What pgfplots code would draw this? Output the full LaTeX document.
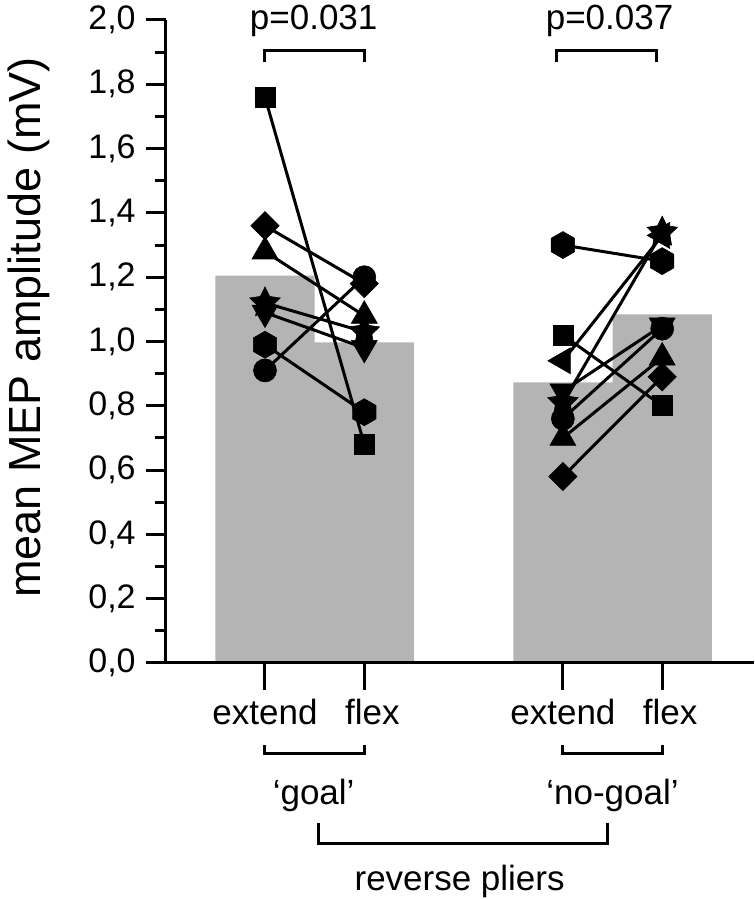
\documentclass[border=0pt]{standalone}
\usepackage{fontspec}
\setmainfont{Liberation Sans}
\usepackage{pgfplots}
\pgfplotsset{compat=1.18}
\definecolor{barg}{RGB}{180,180,180}

\pgfdeclareplotmark{hexagon*}{%
  \pgfpathmoveto{\pgfpointpolar{90}{\pgfplotmarksize}}%
  \pgfpathlineto{\pgfpointpolar{150}{\pgfplotmarksize}}%
  \pgfpathlineto{\pgfpointpolar{210}{\pgfplotmarksize}}%
  \pgfpathlineto{\pgfpointpolar{270}{\pgfplotmarksize}}%
  \pgfpathlineto{\pgfpointpolar{330}{\pgfplotmarksize}}%
  \pgfpathlineto{\pgfpointpolar{30}{\pgfplotmarksize}}%
  \pgfpathclose\pgfusepathqfillstroke}
\pgfdeclareplotmark{fstar*}{%
  \pgfpathmoveto{\pgfpointpolar{90}{\pgfplotmarksize}}%
  \pgfpathlineto{\pgfpointpolar{126}{0.5\pgfplotmarksize}}%
  \pgfpathlineto{\pgfpointpolar{162}{\pgfplotmarksize}}%
  \pgfpathlineto{\pgfpointpolar{198}{0.5\pgfplotmarksize}}%
  \pgfpathlineto{\pgfpointpolar{234}{\pgfplotmarksize}}%
  \pgfpathlineto{\pgfpointpolar{270}{0.5\pgfplotmarksize}}%
  \pgfpathlineto{\pgfpointpolar{306}{\pgfplotmarksize}}%
  \pgfpathlineto{\pgfpointpolar{342}{0.5\pgfplotmarksize}}%
  \pgfpathlineto{\pgfpointpolar{18}{\pgfplotmarksize}}%
  \pgfpathlineto{\pgfpointpolar{54}{0.5\pgfplotmarksize}}%
  \pgfpathclose\pgfusepathqfillstroke}

\pgfplotsset{
  subj/.style={black, line width=1.5pt, mark options={solid, fill=black, line width=0.3pt}},
  sq/.style={subj, mark=square*, mark size=5pt},
  dia/.style={subj, mark=square*, mark size=5pt, mark options={solid, fill=black, line width=0.3pt, rotate=45}},
  tup/.style={subj, mark=triangle*, mark size=7.5pt},
  tdn/.style={subj, mark=triangle*, mark size=7.5pt, mark options={solid, fill=black, line width=0.3pt, rotate=180}},
  tlf/.style={subj, mark=triangle*, mark size=7.5pt, mark options={solid, fill=black, line width=0.3pt, rotate=90}},
  hex/.style={subj, mark=hexagon*, mark size=6.75pt},
  circ/.style={subj, mark=*, mark size=5.75pt},
  str/.style={subj, mark=fstar*, mark size=8pt},
}

\begin{document}
\begin{tikzpicture}
\begin{axis}[
  x=49.65pt, y=160.75pt,
  xmin=-1, xmax=4.92, ymin=0, ymax=2,
  axis x line*=bottom, axis y line*=left,
  clip=false,
  set layers, axis on top, mark layer=axis foreground,
  axis line style={line width=1.5pt},
  ytick={0,0.2,0.4,0.6,0.8,1.0,1.2,1.4,1.6,1.8,2.0},
  minor y tick num=1,
  tick align=outside,
  major tick length=10pt, minor tick length=5.5pt,
  every tick/.style={black, line width=1.5pt},
  xtick={0,1,3,4}, xticklabels={extend,\hspace*{8pt}flex,extend,\hspace*{8pt}flex},
  major x tick style={draw=none},
  /pgf/number format/use comma,
  /pgf/number format/fixed,
  /pgf/number format/fixed zerofill,
  /pgf/number format/precision=1,
  /pgf/number format/assume math mode=true,
  yticklabel style={font=\fontsize{17}{20}\selectfont, xshift=-1.5pt},
  xticklabel style={font=\fontsize{17.5}{21}\selectfont, anchor=base, yshift=-21pt},
  xticklabel shift=0pt,
  ylabel={mean MEP amplitude (mV)},
  ylabel style={font=\fontsize{22.5}{26}\selectfont, at={(axis description cs:-0.2126,0.5218)}, anchor=base},
]
% mean bars
\addplot[ybar, bar width=1, bar shift=0pt, fill=barg, draw=none] coordinates {(0,1.205) (1,0.997) (3,0.873) (4,1.084)};

% 'goal' subjects (extend -> flex)
\addplot[sq]   coordinates {(0,1.76) (1,0.68)};
\addplot[dia]  coordinates {(0,1.36) (1,1.18)};
\addplot[tup]  coordinates {(0,1.28) (1,1.08)};
\addplot[str]  coordinates {(0,1.12) (1,1.03)};
\addplot[tdn]  coordinates {(0,1.09) (1,0.98)};
\addplot[hex]  coordinates {(0,0.99) (1,0.78)};
\addplot[circ] coordinates {(0,0.91) (1,1.20)};

% 'no-goal' subjects (extend -> flex)
\addplot[hex]  coordinates {(3,1.30) (4,1.25)};
\addplot[sq]   coordinates {(3,1.02) (4,0.80)};
\addplot[tlf]  coordinates {(3,0.94) (4,1.33)};
\addplot[tdn]  coordinates {(3,0.845) (4,1.05)};
\addplot[str]  coordinates {(3,0.81) (4,1.34)};
\addplot[circ] coordinates {(3,0.76) (4,1.04)};
\addplot[tup]  coordinates {(3,0.70) (4,0.95)};
\addplot[dia]  coordinates {(3,0.58) (4,0.89)};

% x ticks
\draw[line width=1.5pt] (axis cs:0,0) -- (axis cs:0,-0.084);
\draw[line width=1.5pt] (axis cs:1,0) -- (axis cs:1,-0.084);
\draw[line width=1.5pt] (axis cs:3,0) -- (axis cs:3,-0.084);
\draw[line width=1.5pt] (axis cs:4,0) -- (axis cs:4,-0.084);

% significance brackets
\draw[line width=1.5pt] (axis cs:0,1.870) -- (axis cs:0,1.9045) -- (axis cs:1,1.9045) -- (axis cs:1,1.870);
\draw[line width=1.5pt] (axis cs:2.94,1.870) -- (axis cs:2.94,1.9045) -- (axis cs:3.94,1.9045) -- (axis cs:3.94,1.870);
\node[anchor=base, font=\fontsize{17.5}{21}\selectfont] at (axis cs:0.49,1.971) {p=0.031};
\node[anchor=base, font=\fontsize{17.5}{21}\selectfont] at (axis cs:3.47,1.971) {p=0.037};

% group brackets
\draw[line width=1.5pt] (axis cs:0,-0.255) -- (axis cs:0,-0.28) -- (axis cs:1,-0.28) -- (axis cs:1,-0.255);
\draw[line width=1.5pt] (axis cs:3,-0.255) -- (axis cs:3,-0.28) -- (axis cs:4,-0.28) -- (axis cs:4,-0.255);
\node[anchor=base, font=\fontsize{17.5}{21}\selectfont] at (axis cs:0.49,-0.4417) {‘goal’};
\node[anchor=base, font=\fontsize{17.5}{21}\selectfont] at (axis cs:3.5,-0.4417) {‘no-goal’};
\draw[line width=1.5pt] (axis cs:0.54,-0.4977) -- (axis cs:0.54,-0.563) -- (axis cs:3.45,-0.563) -- (axis cs:3.45,-0.4977);
\node[anchor=base, font=\fontsize{17.5}{21}\selectfont] at (axis cs:1.96,-0.709) {reverse pliers};

\coordinate (bbsw) at (axis cs:-2.6687,-0.7341);
\coordinate (bbne) at (axis cs:4.9245,2.0622);
\end{axis}
\pgfresetboundingbox
\useasboundingbox (bbsw) rectangle (bbne);
\end{tikzpicture}
\end{document}
